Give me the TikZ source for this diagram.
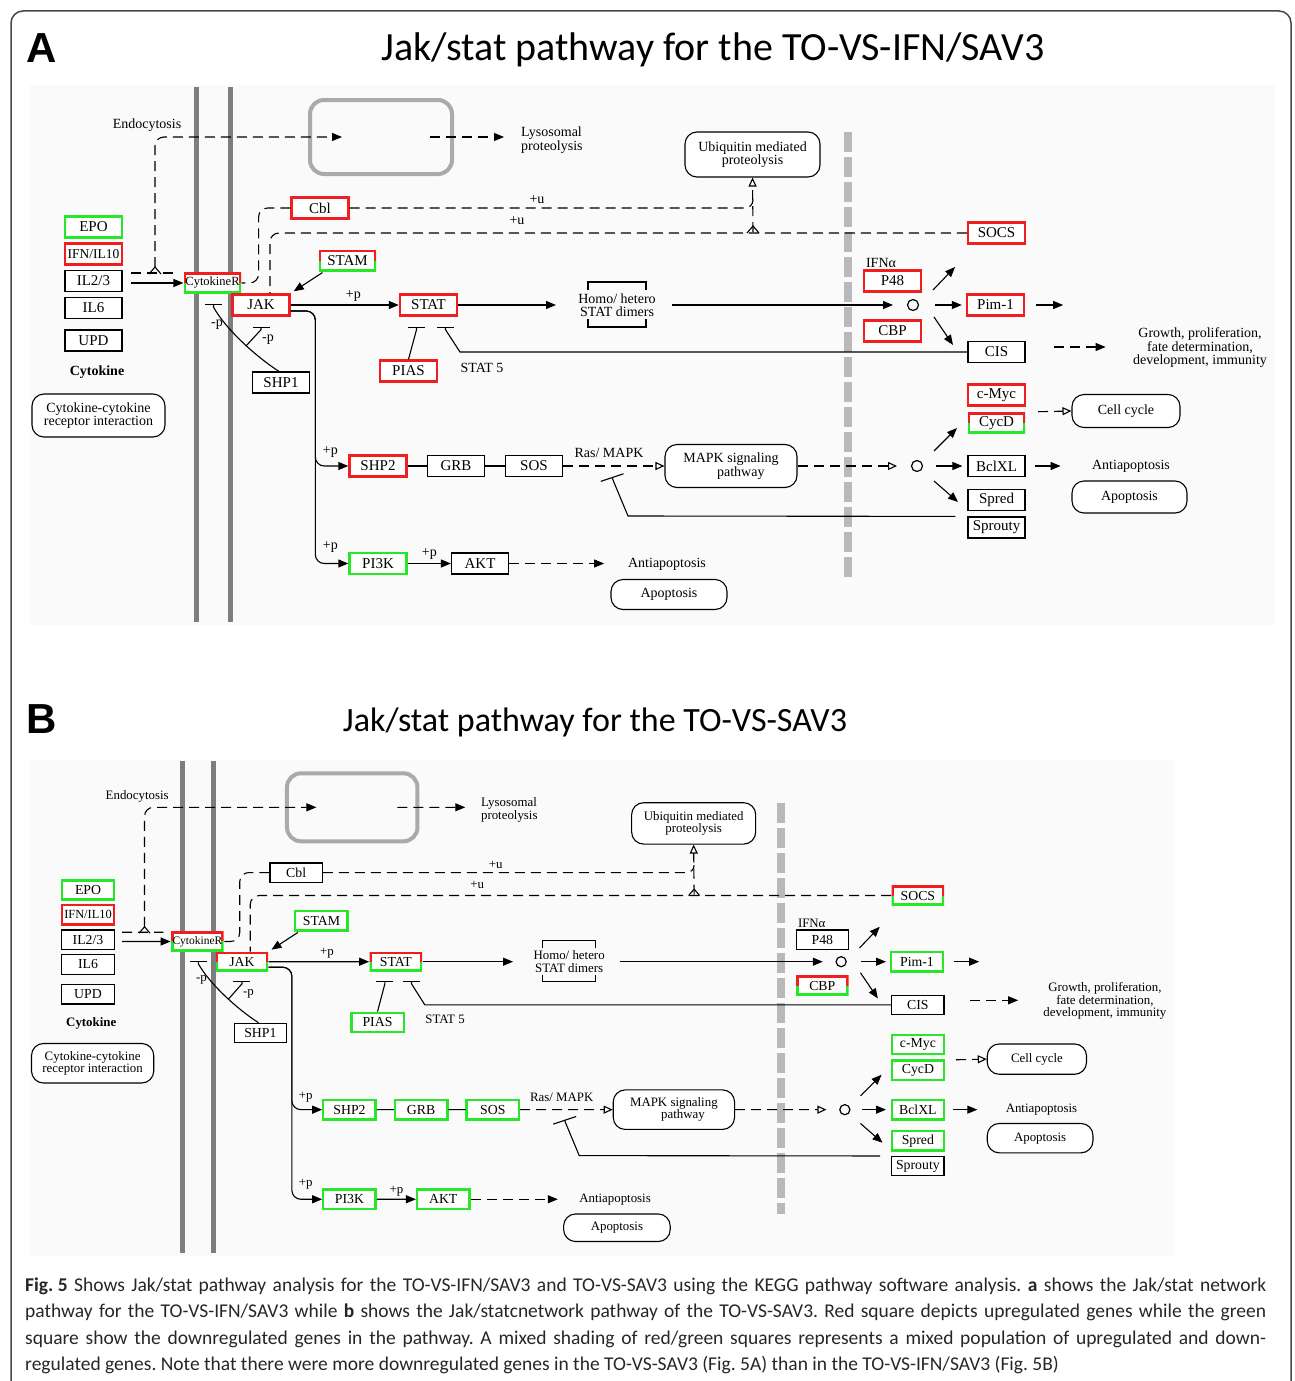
\documentclass[tikz,border=0pt]{standalone}
\usepackage{fontspec}
\setmainfont{Liberation Serif}
\newfontfamily\headfont{Carlito}
\newfontfamily\letterfont{Liberation Sans}
\usetikzlibrary{arrows.meta, positioning, calc}
\definecolor{upred}{RGB}{240,30,30}
\definecolor{downgreen}{RGB}{40,230,40}
\definecolor{membgray}{RGB}{125,125,125}
\definecolor{nucgray}{RGB}{185,185,185}
\definecolor{vesgray}{RGB}{170,170,170}
\definecolor{framegray}{RGB}{70,70,70}

\newcommand{\keggfont}{\fontsize{14}{13.5}\selectfont}
\newcommand{\genefont}{\fontsize{15}{15}\selectfont}

% one KEGG map in pixel units; gene colours come from the c-* styles
\newcommand{\jakstatmap}{%
  % backdrop and membranes
  \fill[black!2] (30,85) rectangle (1275,625);
  \draw[membrane] (196,87) -- (196,622);
  \draw[membrane] (230,87) -- (230,622);
  \draw[nucmemb] (848,132) -- (848,580);
  % outside the cell
  \node[gene, downreg] (EPO) at (93.5,227) {EPO};
  \node[gene, upreg, font=\fontsize{13.5}{14}\selectfont] (IFN) at (93.5,254) {IFN/IL10};
  \node[gene] (IL23) at (93.5,281) {IL2/3};
  \node[gene] (IL6) at (93.5,308) {IL6};
  \node[gene] (UPD) at (93.5,340.5) {UPD};
  \node[tag, font=\keggfont\bfseries] (cytokine) at (97,372) {Cytokine};
  \node[mapbox, minimum width=133pt, minimum height=43pt] (ccri) at (98.5,415.5) {Cytokine-cytokine\\receptor interaction};
  \node[gene, mixreg, font=\fontsize{12.5}{13}\selectfont] (CytR) at (212.5,283) {CytokineR};
  \node[tag] (endo) at (147,125) {Endocytosis};
  \node[vesicle] (vesicle) at (381,137) {};
  \node[tag, anchor=west, align=left] (lyso) at (521,140) {Lysosomal\\proteolysis};
  \node[mapbox, minimum width=135pt, minimum height=45pt] (ubiq) at (752.5,154.5) {Ubiquitin mediated\\proteolysis};
  % cytoplasm
  \node[gene, c-Cbl] (Cbl) at (320,208) {Cbl};
  \node[gene, c-STAM] (STAM) at (347.5,260.5) {STAM};
  \node[gene, c-JAK] (JAK) at (261,305) {JAK};
  \node[gene] (SHP1) at (281,382.5) {SHP1};
  \node[gene, c-STAT] (STAT) at (428.5,305) {STAT};
  \node[gene, c-PIAS] (PIAS) at (408.5,371) {PIAS};
  \node[tag] (stat5) at (482,368) {STAT 5};
  \node[tag, align=center] (dimers) at (617,305) {Homo/ hetero\\STAT dimers};
  \node[gene, c-SHP2] (SHP2) at (378,466) {SHP2};
  \node[gene, c-GRB] (GRB) at (456,466) {GRB};
  \node[gene, c-SOS] (SOS) at (534,466) {SOS};
  \node[tag] (rasmapk) at (609,453) {Ras/ MAPK};
  \node[mapbox, minimum width=132pt, minimum height=43pt] (mapk) at (731,466) {MAPK signaling\\\hspace*{1.4em}pathway};
  \node[gene, downreg] (PI3K) at (378,563.5) {PI3K};
  \node[gene, c-AKT] (AKT) at (480,563.5) {AKT};
  \node[tag] (antiap2) at (667,564) {Antiapoptosis};
  \node[mapbox, minimum width=116pt, minimum height=30pt] (apop2) at (669,594.5) {Apoptosis};
  % nucleus
  \node[tag] (ifna) at (881,263) {IFNα};
  \node[gene, c-P48] (P48) at (892.5,281) {P48};
  \node[gene, c-CBP] (CBP) at (892.5,331) {CBP};
  \node[junction] (dot1) at (913,305) {};
  \node[gene, c-SOCS] (SOCS) at (996.5,233) {SOCS};
  \node[gene, c-Pim] (Pim1) at (995.5,305) {Pim-1};
  \node[gene] (CIS) at (996.5,352) {CIS};
  \node[tag, align=center] (growth) at (1200,348) {Growth, proliferation,\\ fate determination,\\ development, immunity};
  \node[gene, c-Myc] (cMyc) at (996.5,395) {c-Myc};
  \node[gene, c-CycD] (CycD) at (996.5,423) {CycD};
  \node[mapbox, minimum width=108pt, minimum height=33pt] (cellcyc) at (1126,411) {Cell cycle};
  \node[junction] (dot2) at (917,466) {};
  \node[gene, c-Bcl] (BclXL) at (996.5,466) {BclXL};
  \node[tag] (antiap1) at (1131,466) {Antiapoptosis};
  \node[mapbox, minimum width=115pt, minimum height=32pt] (apop1) at (1129.5,497) {Apoptosis};
  \node[gene, c-Spred] (Spred) at (996.5,500) {Spred};
  \node[gene] (Sprouty) at (996.5,527.5) {Sprouty};
  \coordinate (endojoin) at (155,273);
  \coordinate (ubjoin) at (753,232);
  \coordinate (shpjoin) at (246,346);
  \coordinate (s5) at (460,352);
  \coordinate (rmbar) at (612,477);
  % receptor side
  \draw[act] ($(IL23.east)+(8,2)$) -- (CytR.west);
  \draw[link] ($(IL23.east)+(8,-8)$) -- ($(CytR.west)+(-8,-10)$);
  \draw[link, act, rounded corners=9pt] ($(endojoin)+(0,-6)$) -- ($(endojoin)+(0,-136)$) -- ($(vesicle.center)+(-39,0)$);
  \draw[wire] ($(endojoin)+(-6,1)$) -- ($(endojoin)+(0,-6)$) -- ($(endojoin)+(6,1)$);
  \draw[link, act] ($(vesicle.center)+(49,0)$) -- ($(lyso.west)+(-17,-3)$);
  \draw[link, rounded corners=9pt] (Cbl.west) -| ($(CytR.east)+(17,0)$) -- (CytR.east);
  \draw[link] (Cbl.east) -- ($(ubjoin)+(-8,-24)$) to[out=0, in=-90] ($(ubjoin)+(0,-32)$);
  \draw[link, ind] (ubjoin) -- (ubiq.south);
  \draw[wire] ($(ubjoin)+(-6,1)$) -- ($(ubjoin)+(0,-6)$) -- ($(ubjoin)+(6,1)$);
  \draw[link, rounded corners=9pt] (SOCS.west) -| ($(JAK.north)+(9,0)$);
  \node[tag] (u1) at (537,200) {+u};
  \node[tag] (u2) at (517,221) {+u};
  % JAK and STAT
  \draw[act] ($(STAM.south west)+(4,1)$) -- ($(JAK.north east)+(3,-2)$);
  \draw[act] (JAK) -- (STAT) node[tag, pos=0.58, above=3pt] (p1) {+p};
  \draw[act, rounded corners=9pt] ($(JAK.east)+(0,6)$) -| ($(SHP2.west)+(-33,0)$) -- (SHP2.west);
  \draw[act, rounded corners=9pt] ($(JAK.east)+(0,6)$) -| ($(PI3K.west)+(-33,0)$) -- (PI3K.west);
  \node[tag] (p2) at ($(SHP2.west)+(-18,-14)$) {+p};
  \node[tag] (p3) at ($(PI3K.west)+(-18,-16)$) {+p};
  \draw[inh] ($(SHP1.north)+(-2,0)$) .. controls +(-22,-14) and +(12,22) .. ($(CytR.south)+(1,13)$) -- ($(CytR.south)+(1,10)$);
  \draw[inh] (shpjoin) -- ($(JAK.south)+(0,13)$) -- ($(JAK.south)+(0,10)$);
  \node[tag] (m1) at (217,325) {-p};
  \node[tag] (m2) at (268,340) {-p};
  \draw[inh] (PIAS.north) -- ($(STAT.south)+(-12,13)$) -- ($(STAT.south)+(-12,10)$);
  \draw[inh] (CIS.west) -- (CIS.west -| s5) -- ($(STAT.south)+(17,13)$) -- ($(STAT.south)+(17,10)$);
  \draw[act] (STAT.east) -- ($(dimers.center)+(-61,0)$);
  \draw[wire] ($(dimers.center)+(-29,-15)$) |- ++(58,-8) -- ++(0,8);
  \draw[wire] ($(dimers.center)+(-29,14)$) |- ++(58,8) -- ++(0,-8);
  % nuclear targets
  \draw[act] ($(dimers.center)+(55,0)$) -- ($(dot1)+(-20,0)$);
  \draw[act] ($(dot1)+(22,0)$) -- ($(Pim1.west)+(-4,0)$);
  \draw[act] ($(dot1)+(20,-15)$) -- ++(22,-23);
  \draw[act] ($(dot1)+(21,12)$) -- ++(19,28);
  \draw[act] ($(Pim1.east)+(11,0)$) -- ++(27,0);
  \draw[link, act] ($(CIS.east)+(28,-5)$) -- ++(52,0);
  \draw[link, ind] ($(cMyc.south east)+(12,5)$) -- (cellcyc.west);
  % MAPK and PI3K branches
  \draw[wire] (SHP2) -- (GRB);
  \draw[wire] (GRB) -- (SOS);
  \draw[link, ind] (SOS) -- (mapk);
  \draw[link, ind] (mapk) -- ($(dot2)+(-20,0)$);
  \draw[inh, -{Bar[width=24pt]}] ($(Sprouty.north west)+(-12,0)$) -- ($(rmbar)+(16,39)$) -- ($(rmbar)+(1,3)$) -- (rmbar);
  \draw[act] ($(dot2)+(17,-15)$) -- ++(23,-23);
  \draw[act] ($(dot2)+(19,0)$) -- ($(BclXL.west)+(-5,0)$);
  \draw[act] ($(dot2)+(17,15)$) -- ++(24,21);
  \draw[act] ($(BclXL.east)+(9,0)$) -- ++(26,0);
  \draw[act] (PI3K) -- (AKT) node[tag, midway, above=3pt] (p4) {+p};
  \draw[link, act] (AKT.east) -- ++(95,0);
}

\begin{document}
\begin{tikzpicture}[
    x=1pt, y=-1pt,
    gene/.style={rectangle, draw=black, line width=1.2pt, fill=white, minimum width=57pt, minimum height=21pt, inner sep=0pt, font=\genefont},
    upreg/.style={draw=upred, line width=2.4pt},
    downreg/.style={draw=downgreen, line width=2.4pt},
    plainreg/.style={},
    mixreg/.style={draw=none, path picture={
        \draw[name prefix=, upred, line width=4.8pt] (path picture bounding box.west) |- (path picture bounding box.north east) -- (path picture bounding box.east);
        \draw[name prefix=, downgreen, line width=4.8pt] (path picture bounding box.west) |- (path picture bounding box.south east) -- (path picture bounding box.east);}},
    mapbox/.style={rectangle, rounded corners=12pt, draw, line width=1.1pt, fill=white, font=\keggfont, align=center, inner sep=2pt},
    tag/.style={font=\keggfont, inner sep=0pt},
    vesicle/.style={rectangle, draw=vesgray, line width=4pt, rounded corners=14pt, minimum width=142pt, minimum height=74pt},
    junction/.style={circle, draw, line width=1.2pt, minimum size=11pt, inner sep=0pt},
    membrane/.style={draw=membgray, line width=5pt},
    nucmemb/.style={draw=nucgray, line width=8pt, dash pattern=on 20pt off 5pt},
    wire/.style={line width=1.1pt},
    act/.style={-{Triangle[length=10pt,width=8pt]}, line width=1.1pt},
    ind/.style={-{Triangle[open,length=9pt,width=8pt]}, line width=1.1pt},
    inh/.style={-{Bar[width=17pt]}, line width=1.1pt},
    link/.style={dash pattern=on 10pt off 6pt, line width=1.1pt},
    panelletter/.style={font=\letterfont\bfseries\fontsize{42}{42}\selectfont, inner sep=0pt, anchor=base west},
    paneltitle/.style={font=\headfont\fontsize{40}{40}\selectfont, inner sep=0pt, anchor=base},
    capline/.style={font=\headfont\fontsize{19.5}{22}\selectfont\frenchspacing, inner sep=0pt, anchor=base west, text=black!85}
]
\useasboundingbox (0,0) rectangle (1295,1381);
\clip (0,0) rectangle (1295,1381);
\draw[framegray, line width=1.5pt, rounded corners=12pt] (11,11) rectangle (1291,1420);

\node[panelletter] (letA) at (26,63) {A};
\node[paneltitle] (titleA) at (713,61) {Jak/stat pathway for the TO-VS-IFN/SAV3};
\begin{scope}[name prefix=A-,
    c-Cbl/.style=upreg, c-STAM/.style=mixreg, c-JAK/.style=upreg, c-STAT/.style=upreg,
    c-PIAS/.style=upreg, c-SHP2/.style=upreg, c-GRB/.style=plainreg, c-SOS/.style=plainreg,
    c-AKT/.style=plainreg, c-SOCS/.style=upreg, c-P48/.style=upreg, c-CBP/.style=upreg,
    c-Pim/.style=upreg, c-Myc/.style=upreg, c-CycD/.style=mixreg, c-Bcl/.style=plainreg,
    c-Spred/.style=plainreg]
\jakstatmap
\end{scope}

\node[panelletter] (letB) at (26,733) {B};
\node[paneltitle, font=\headfont\fontsize{34}{34}\selectfont] (titleB) at (595,731) {Jak/stat pathway for the TO-VS-SAV3};
\begin{scope}[name prefix=B-, shift={(2.1,681.4)}, scale=0.919, transform shape,
    c-Cbl/.style=plainreg, c-STAM/.style=downreg, c-JAK/.style=mixreg, c-STAT/.style=mixreg,
    c-PIAS/.style=downreg, c-SHP2/.style=downreg, c-GRB/.style=downreg, c-SOS/.style=downreg,
    c-AKT/.style=downreg, c-SOCS/.style=mixreg, c-P48/.style=plainreg, c-CBP/.style=mixreg,
    c-Pim/.style=downreg, c-Myc/.style=downreg, c-CycD/.style=downreg, c-Bcl/.style=downreg,
    c-Spred/.style=downreg]
\jakstatmap
\end{scope}

\node[capline] (cap1) at (25,1291) {\makebox[1241pt][s]{\textbf{\mbox{Fig. 5}} Shows Jak/stat pathway analysis for the TO-VS-IFN/SAV3 and TO-VS-SAV3 using the KEGG pathway software analysis. \textbf{a} shows the Jak/stat network}};
\node[capline] (cap2) at (25,1317) {\makebox[1241pt][s]{pathway for the TO-VS-IFN/SAV3 while \textbf{b} shows the Jak/statcnetwork pathway of the TO-VS-SAV3. Red square depicts upregulated genes while the green}};
\node[capline] (cap3) at (25,1344) {\makebox[1241pt][s]{square show the downregulated genes in the pathway. A mixed shading of red/green squares represents a mixed population of upregulated and down-}};
\node[capline] (cap4) at (25,1370) {regulated genes. Note that there were more downregulated genes in the TO-VS-SAV3 (Fig. 5A) than in the TO-VS-IFN/SAV3 (Fig. 5B)};
\end{tikzpicture}
\end{document}
